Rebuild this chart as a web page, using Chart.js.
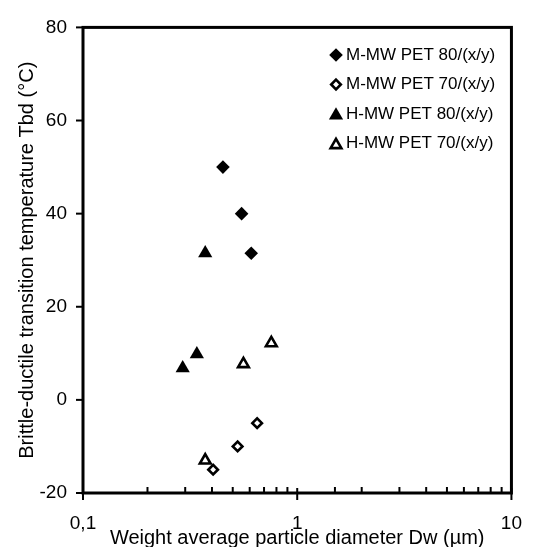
<!DOCTYPE html>
<html>
<head>
<meta charset="utf-8">
<script src="https://cdn.jsdelivr.net/npm/chart.js@4/dist/chart.umd.min.js"></script>
<style>
html,body{margin:0;padding:0;background:#fff;}
#wrap{width:541px;height:547px;position:relative;}
</style>
</head>
<body>
<div id="wrap"><canvas id="c"></canvas></div>
<script>
// ---- data ----
const seriesNames = ['M-MW PET 80/(x/y)', 'M-MW PET 70/(x/y)', 'H-MW PET 80/(x/y)', 'H-MW PET 70/(x/y)'];
const mmw80X = [0.45, 0.55, 0.61];
const mmw80Y = [50, 40, 31.5];
const mmw70X = [0.405, 0.527, 0.65];
const mmw70Y = [-15, -10, -5];
const hmw80X = [0.292, 0.34, 0.372];
const hmw80Y = [6.8, 9.8, 31.5];
const hmw70X = [0.372, 0.561, 0.757];
const hmw70Y = [-13, 7.7, 12.2];
const xMajorTicks = [0.1, 1, 10];
const xMajorLabels = ['0,1', '1', '10'];
const yMin = -20, yMax = 80, yStep = 20;
const xTitle = 'Weight average particle diameter Dw (µm)';
const yTitle = 'Brittle-ductile transition temperature Tbd (°C)';

const FONT = '"Liberation Sans", Arial, sans-serif';
function pts(xs, ys){ return xs.map((x,i)=>({x:x, y:ys[i]})); }

const styles = [
  {pointStyle:'rectRot', radius:6.8, bg:'#000', bw:0},
  {pointStyle:'rectRot', radius:4.8, bg:'#fff', bw:2.6},
  {pointStyle:'triangle', radius:8.2, bg:'#000', bw:0},
  {pointStyle:'triangle', radius:6.2, bg:'#fff', bw:2.6}
];
const dataSets = [pts(mmw80X,mmw80Y), pts(mmw70X,mmw70Y), pts(hmw80X,hmw80Y), pts(hmw70X,hmw70Y)];

function isMajor(v){ return xMajorTicks.some(m => Math.abs(v - m) < 1e-9 * Math.max(1,m)); }
function majorLabel(v){ const i = xMajorTicks.findIndex(m => Math.abs(v - m) < 1e-9 * Math.max(1,m)); return i>=0 ? xMajorLabels[i] : ''; }

function drawMarker(ctx, style, x, y){
  ctx.save();
  ctx.beginPath();
  const r = style.radius;
  if (style.pointStyle === 'rectRot'){
    ctx.moveTo(x, y - r); ctx.lineTo(x + r, y); ctx.lineTo(x, y + r); ctx.lineTo(x - r, y);
  } else {
    ctx.moveTo(x, y - r);
    ctx.lineTo(x + Math.sin(2*Math.PI/3)*r, y + 0.5*r);
    ctx.lineTo(x - Math.sin(2*Math.PI/3)*r, y + 0.5*r);
  }
  ctx.closePath();
  ctx.fillStyle = style.bg; ctx.fill();
  if (style.bw > 0){ ctx.lineWidth = style.bw; ctx.strokeStyle = '#000'; ctx.stroke(); }
  ctx.restore();
}

const framePlugin = {
  id: 'frame',
  afterDraw(chart){
    const ctx = chart.ctx, a = chart.chartArea;
    const xs = chart.scales.x, ys = chart.scales.y;
    ctx.save();
    ctx.strokeStyle = '#000';
    // frame
    ctx.lineWidth = 3;
    ctx.strokeRect(a.left, a.top, a.right - a.left, a.bottom - a.top);
    // y ticks (outward)
    ctx.lineWidth = 2;
    ys.ticks.forEach(t => {
      const py = ys.getPixelForValue(t.value);
      ctx.beginPath(); ctx.moveTo(a.left - 7, py); ctx.lineTo(a.left, py); ctx.stroke();
    });
    // x ticks: major cross, minor inward
    xs.ticks.forEach(t => {
      const px = xs.getPixelForValue(t.value);
      ctx.beginPath();
      if (isMajor(t.value)) { ctx.moveTo(px, a.bottom - 5); ctx.lineTo(px, a.bottom + 7); }
      else { ctx.moveTo(px, a.bottom - 6); ctx.lineTo(px, a.bottom); }
      ctx.stroke();
    });
    // axis titles
    ctx.fillStyle = '#000';
    ctx.font = '20px ' + FONT;
    ctx.textAlign = 'center';
    ctx.textBaseline = 'alphabetic';
    ctx.fillText(xTitle, (a.left + a.right)/2, 544);
    ctx.save();
    ctx.translate(33, (a.top + a.bottom)/2);
    ctx.rotate(-Math.PI/2);
    ctx.fillText(yTitle, 0, 0);
    ctx.restore();
    // legend
    ctx.font = '17px ' + FONT;
    ctx.textAlign = 'left';
    ctx.textBaseline = 'middle';
    seriesNames.forEach((name, i) => {
      const ly = 55 + i * 29.5;
      const st = styles[i];
      drawMarker(ctx, st, 336, st.pointStyle === 'triangle' ? ly + 1.5 : ly);
      ctx.fillText(name, 346, ly);
    });
    ctx.restore();
  }
};

new Chart(document.getElementById('c'), {
  type: 'scatter',
  data: {
    datasets: dataSets.map((d, i) => ({
      label: seriesNames[i],
      data: d,
      pointStyle: styles[i].pointStyle,
      pointRadius: styles[i].radius,
      pointHoverRadius: styles[i].radius,
      backgroundColor: styles[i].bg,
      borderColor: '#000',
      borderWidth: styles[i].bw,
      showLine: false
    }))
  },
  options: {
    responsive: true,
    maintainAspectRatio: false,
    animation: false,
    devicePixelRatio: 1,
    layout: { padding: { top: 22, right: 12, left: 0, bottom: 0 } },
    plugins: { legend: { display: false }, tooltip: { enabled: false } },
    scales: {
      x: {
        type: 'logarithmic',
        min: 0.1, max: 10,
        grid: { display: false, drawTicks: false },
        border: { display: false },
        ticks: {
          autoSkip: false, maxRotation: 0, minRotation: 0,
          padding: 19,
          color: '#000',
          font: { family: FONT, size: 19 },
          callback: (v) => majorLabel(v)
        },
        afterFit: (s) => { s.height = 54; }
      },
      y: {
        type: 'linear',
        min: yMin, max: yMax,
        grid: { display: false, drawTicks: false },
        border: { display: false },
        ticks: {
          stepSize: yStep,
          padding: 16,
          color: '#000',
          font: { family: FONT, size: 19 }
        },
        afterFit: (s) => { s.width = 83; }
      }
    }
  },
  plugins: [framePlugin]
});
</script>
</body>
</html>
